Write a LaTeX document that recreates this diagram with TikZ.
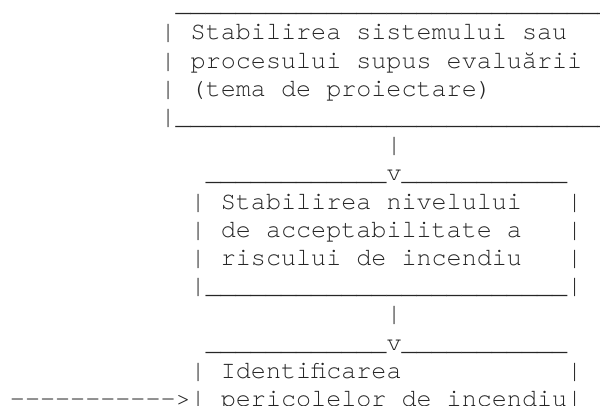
\documentclass[tikz,border=0pt]{standalone}
\usepackage{fontspec}
\newfontfamily\asciifont{TeX Gyre Cursor}
\usepackage{tikz}

\tikzset{asciitxt/.style={anchor=base west, inner sep=0pt, outer sep=0pt,
  text=black!85, font=\asciifont\fontsize{25.1pt}{28.2pt}\selectfont}}
\newcommand{\ascrule}[1]{\foreach \k in {1,...,#1}{\_}}

\begin{document}
\begin{tikzpicture}[x=15.06pt, y=-28.2pt]
\useasboundingbox (-0.664,-0.418) rectangle (39.177,13.979);
\clip (-0.664,-0.418) rectangle (39.177,13.979);

% tema de proiectare
\node[asciitxt] (sistop) at (11,0) {\ascrule{30}};
\node[asciitxt] (sis1) at (10,1) {| Stabilirea sistemului sau};
\node[asciitxt] (sis2) at (10,2) {| procesului supus evaluării};
\node[asciitxt] (sis3) at (10,3) {| (tema de proiectare)};
\node[asciitxt] (sisbot) at (10,4) {|\ascrule{30}};
\node[asciitxt] (fir1) at (25,5) {|};

% nivel de acceptabilitate
\node[asciitxt] (nivtop) at (13,6) {\ascrule{12}v\ascrule{11}};
\node[asciitxt] (niv1) at (12,7) {| Stabilirea nivelului};
\node[asciitxt] (niv2) at (12,8) {| de acceptabilitate a};
\node[asciitxt] (niv3) at (12,9) {| riscului de incendiu};
\node[asciitxt] (nivbot) at (12,10) {|\ascrule{24}|};
\node[asciitxt] (niv1r) at (37,7) {|};
\node[asciitxt] (niv2r) at (37,8) {|};
\node[asciitxt] (niv3r) at (37,9) {|};
\node[asciitxt] (fir2) at (25,11) {|};

% identificarea pericolelor
\node[asciitxt] (pertop) at (13,12) {\ascrule{12}v\ascrule{11}};
\node[asciitxt] (per1) at (12,13) {| Identificarea};
\node[asciitxt] (per1r) at (37,13) {|};
\node[asciitxt] (per2) at (0,14) {-{}-{}-{}-{}-{}-{}-{}-{}-{}-{}->| pericolelor de incendiu|};
\end{tikzpicture}
\end{document}
